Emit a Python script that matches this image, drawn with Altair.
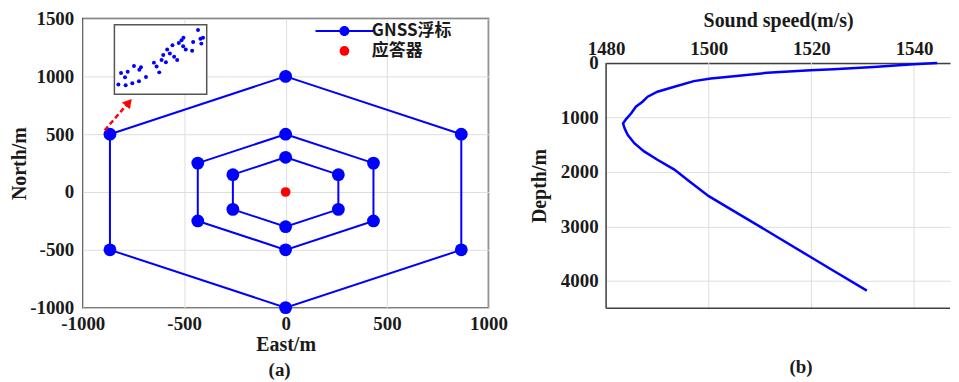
import altair as alt
import pandas as pd

# ---------------- data ----------------
SERIES_LABELS = ["GNSS浮标", "应答器"]

# hexagon rings of GNSS buoys (East, North in metres)
RING_OUTER_E = [0, 866, 866, 0, -866, -866]
RING_OUTER_N = [1000, 500, -500, -1000, -500, 500]
RING_MID_E = [0, 433, 433, 0, -433, -433]
RING_MID_N = [500, 250, -250, -500, -250, 250]
RING_INNER_E = [0, 260, 260, 0, -260, -260]
RING_INNER_N = [300, 150, -150, -300, -150, 150]

# transponder
TRANSPONDER_E = [0]
TRANSPONDER_N = [0]

# zoom inset: extent in map units and its scattered points (local 0..1 units)
INSET_BOX_E = [-844, -389]
INSET_BOX_N = [845, 1447]
INSET_U = [0.043, 0.122, 0.194, 0.266, 0.342, 0.072, 0.144, 0.115, 0.212, 0.288,
           0.270, 0.428, 0.457, 0.486, 0.511, 0.558, 0.572, 0.529, 0.629, 0.601,
           0.647, 0.680, 0.698, 0.727, 0.748, 0.745, 0.773, 0.842, 0.853, 0.906,
           0.932, 0.960, 0.942]
INSET_V = [0.141, 0.131, 0.160, 0.188, 0.249, 0.305, 0.324, 0.244, 0.408, 0.390,
           0.352, 0.455, 0.399, 0.315, 0.493, 0.460, 0.643, 0.563, 0.704, 0.587,
           0.540, 0.493, 0.737, 0.775, 0.812, 0.690, 0.643, 0.624, 0.751, 0.925,
           0.798, 0.812, 0.728]

# dashed arrow (map units)
ARROW_E = [-892, -786]
ARROW_N = [534, 749]
ARROW_HEAD_E = [-773]
ARROW_HEAD_N = [775]

# sound speed profile
DEPTH = [0, 24, 73, 115, 133, 182, 243, 286, 334, 438, 529, 620, 712, 803, 925,
         1030, 1110, 1200, 1320, 1473, 1624, 1776, 1958, 2172, 2445, 2719, 3084,
         3571, 3814, 4179]
SPEED = [1544.5, 1539.9, 1532.1, 1524.3, 1519.8, 1511.4, 1504.9, 1500.4, 1497.1,
         1493.3, 1490.0, 1488.1, 1487.1, 1485.8, 1484.9, 1483.9, 1483.3, 1483.6,
         1484.2, 1485.5, 1487.4, 1490.0, 1493.3, 1496.2, 1500.0, 1504.9, 1511.4,
         1520.0, 1524.3, 1530.8]
SPEED_DOMAIN = [1480, 1547]
DEPTH_DOMAIN = [0, 4500]

X_TICKS_A = [-1000, -500, 0, 500, 1000]
Y_TICKS_A = [-1000, -500, 0, 500, 1000, 1500]
X_TICKS_B = [1480, 1500, 1520, 1540]
Y_TICKS_B = [0, 1000, 2000, 3000, 4000]

# ---------------- styling ----------------
BLUE = "#0000FF"
RED = "#FF0000"
SERIF = "Liberation Serif, Times New Roman, serif"
CJK = "Noto Sans CJK SC"
TXT = "#1a1a1a"
GRID = "#dedede"
FRAME = "#404040"
LBL = "'' + datum.value"
TOP_GAP = 44.5          # room above panel (b)'s plot area, in pixels
B_PLOT_H = 246

AX = dict(labelFont=SERIF, titleFont=SERIF, labelFontWeight="bold",
          titleFontWeight="bold", labelFontSize=19, titleFontSize=20,
          labelColor=TXT, titleColor=TXT, labelFlush=False, labelOverlap=False,
          labelExpr=LBL, ticks=False)

# ---------------- tables ----------------
rows = []
for ring, es, ns in [("outer", RING_OUTER_E, RING_OUTER_N),
                     ("mid", RING_MID_E, RING_MID_N),
                     ("inner", RING_INNER_E, RING_INNER_N)]:
    pts = list(zip(es, ns)) + [(es[0], ns[0])]
    for i, (e, n) in enumerate(pts):
        rows.append({"ring": ring, "idx": i, "e": e, "n": n})
rings_df = pd.DataFrame(rows)
gnss_df = rings_df[rings_df["idx"] < 6].assign(label=SERIES_LABELS[0])
trans_df = pd.DataFrame({"e": TRANSPONDER_E, "n": TRANSPONDER_N,
                         "label": [SERIES_LABELS[1]]})
box_df = pd.DataFrame({"e": [INSET_BOX_E[0]], "e2": [INSET_BOX_E[1]],
                       "n": [INSET_BOX_N[0]], "n2": [INSET_BOX_N[1]]})
ew = INSET_BOX_E[1] - INSET_BOX_E[0]
nh = INSET_BOX_N[1] - INSET_BOX_N[0]
inset_df = pd.DataFrame({"e": [INSET_BOX_E[0] + u * ew for u in INSET_U],
                         "n": [INSET_BOX_N[0] + v * nh for v in INSET_V]})
arrow_df = pd.DataFrame({"e": ARROW_E, "n": ARROW_N, "idx": [0, 1]})
head_df = pd.DataFrame({"e": ARROW_HEAD_E, "n": ARROW_HEAD_N})
prof_df = pd.DataFrame({"speed": SPEED, "depth": DEPTH})
vgrid_df = pd.DataFrame({"speed": X_TICKS_B,
                         "depth": [DEPTH_DOMAIN[0]] * len(X_TICKS_B),
                         "depth2": [DEPTH_DOMAIN[1]] * len(X_TICKS_B)})
bottom_df = pd.DataFrame({"speed": [SPEED_DOMAIN[0]], "speed2": [SPEED_DOMAIN[1]],
                          "depth": [DEPTH_DOMAIN[1]]})
leftb_df = pd.DataFrame({"speed": [SPEED_DOMAIN[0]], "depth": [DEPTH_DOMAIN[0]],
                         "depth2": [DEPTH_DOMAIN[1]]})

# ---------------- panel (a) ----------------
x_a = alt.X("e:Q", title="East/m",
            scale=alt.Scale(domain=[-1000, 1000], nice=False),
            axis=alt.Axis(values=X_TICKS_A, grid=True, gridColor=GRID,
                          domain=False, labelPadding=7, titlePadding=1, **AX))
y_a = alt.Y("n:Q", title="North/m",
            scale=alt.Scale(domain=[-1000, 1500], nice=False),
            axis=alt.Axis(values=Y_TICKS_A, grid=True, gridColor=GRID,
                          domain=False, labelPadding=9, titlePadding=0, **AX))

GNSS_SYMBOL = ("M-5.8,-0.2L5.8,-0.2L5.8,0.2L-5.8,0.2Z "
               "M1,0A1,1,0,1,1,-1,0A1,1,0,1,1,1,0Z")

lines = alt.Chart(rings_df).mark_line(color=BLUE, strokeWidth=2).encode(
    x=x_a, y=y_a, detail="ring:N", order="idx:Q")
gnss = alt.Chart(gnss_df).mark_circle(size=165, opacity=1).encode(
    x=x_a, y=y_a,
    color=alt.Color("label:N",
                    scale=alt.Scale(domain=[SERIES_LABELS[0]], range=[BLUE]),
                    legend=alt.Legend(orient="none", legendX=254, legendY=4,
                                      title=None, symbolType=GNSS_SYMBOL,
                                      symbolSize=100, labelOffset=19,
                                      labelFont=CJK, labelFontSize=17,
                                      labelFontWeight="bold", labelColor=TXT)))
trans = alt.Chart(trans_df).mark_circle(size=95, opacity=1).encode(
    x=x_a, y=y_a,
    fill=alt.Fill("label:N",
                  scale=alt.Scale(domain=[SERIES_LABELS[1]], range=[RED]),
                  legend=alt.Legend(orient="none", legendX=254, legendY=24,
                                    title=None, symbolType="circle",
                                    symbolSize=95, labelOffset=19,
                                    labelFont=CJK, labelFontSize=17,
                                    labelFontWeight="bold", labelColor=TXT)))
box = alt.Chart(box_df).mark_rect(fill="white", stroke="#555555",
                                  strokeWidth=1.5).encode(
    x=x_a, x2="e2:Q", y=y_a, y2="n2:Q")
inset = alt.Chart(inset_df).mark_circle(size=16, opacity=1, color=BLUE).encode(
    x=x_a, y=y_a)
arrow = alt.Chart(arrow_df).mark_line(color=RED, strokeWidth=2.5,
                                      strokeDash=[5, 3]).encode(
    x=x_a, y=y_a, order="idx:Q")
head = alt.Chart(head_df).mark_point(shape="triangle-up", filled=True,
                                     size=110, angle=40, color=RED,
                                     opacity=1).encode(x=x_a, y=y_a)

left = alt.layer(lines, gnss, trans, box, inset, arrow, head).resolve_scale(
    color="independent", fill="independent").properties(
    width=407, height=290,
    view=alt.ViewBackground(stroke=FRAME, strokeWidth=1.5),
    title=alt.TitleParams("(a)", orient="bottom", anchor="middle",
                          offset=7, dx=-6))

# ---------------- panel (b) ----------------
xs = alt.Scale(domain=SPEED_DOMAIN, nice=False, zero=False)
ys = alt.Scale(domain=DEPTH_DOMAIN, nice=False, zero=False,
               range=[TOP_GAP, TOP_GAP + B_PLOT_H])
x_b = alt.X("speed:Q", title="Sound speed(m/s)", scale=xs,
            axis=alt.Axis(orient="top", values=X_TICKS_B, grid=False,
                          domain=True, domainColor=FRAME, domainWidth=1.5,
                          offset=-TOP_GAP, labelPadding=4, titlePadding=10,
                          **AX))
y_b = alt.Y("depth:Q", title="Depth/m", scale=ys,
            axis=alt.Axis(values=Y_TICKS_B, grid=True, gridColor=GRID,
                          domain=False, labelPadding=8, titlePadding=11, **AX))

vgrid = alt.Chart(vgrid_df).mark_rule(color=GRID, strokeWidth=1).encode(
    x=x_b, y=y_b, y2="depth2:Q")
curve = alt.Chart(prof_df).mark_line(color=BLUE, strokeWidth=2.5).encode(
    x=x_b, y=y_b, order="depth:Q")
bottom_border = alt.Chart(bottom_df).mark_rule(color=FRAME, strokeWidth=1.5).encode(
    x=x_b, x2="speed2:Q", y=y_b)
left_border = alt.Chart(leftb_df).mark_rule(color=FRAME, strokeWidth=1.5).encode(
    x=x_b, y=y_b, y2="depth2:Q")

right = alt.layer(vgrid, curve, bottom_border, left_border).properties(
    width=345, height=TOP_GAP + B_PLOT_H,
    view=alt.ViewBackground(stroke=None),
    title=alt.TitleParams("(b)", orient="bottom", anchor="middle",
                          offset=49, dx=23))

chart = alt.hconcat(left, right, spacing=21).properties(
    padding=0
).configure_title(
    font=SERIF, fontSize=19, fontWeight="bold", color=TXT
)

chart.save("out.html", embed_options={"renderer": "svg", "actions": False})
